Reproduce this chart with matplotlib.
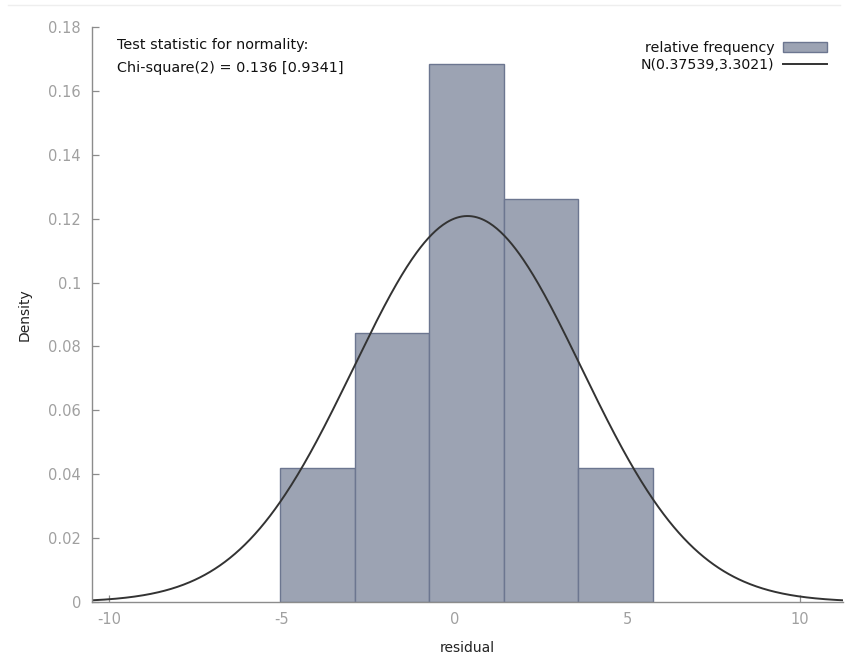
import numpy as np
import matplotlib.pyplot as plt
from matplotlib.lines import Line2D

# histogram of residuals (density scale) and fitted normal
bin_edges = [-5.06, -2.89, -0.73, 1.42, 3.57, 5.74]
density = [0.0421, 0.0842, 0.1684, 0.1263, 0.0421]
mu, sigma = 0.37539, 3.3021
x_ticks = [-10, -5, 0, 5, 10]
y_ticks = [0, 0.02, 0.04, 0.06, 0.08, 0.1, 0.12, 0.14, 0.16, 0.18]
y_ticklabels = ['0', '0.02', '0.04', '0.06', '0.08', '0.1', '0.12', '0.14', '0.16', '0.18']

plt.rcParams['font.family'] = ['DejaVu Sans']
plt.rcParams['axes.unicode_minus'] = False

fig = plt.figure(figsize=(8.48, 6.57), dpi=100)
ax = fig.add_axes([0.1085, 0.0837, 0.8855, 0.8753])

edges = np.array(bin_edges)
bars = ax.bar(edges[:-1], density, width=np.diff(edges), align='edge',
              color='#9ca3b3', edgecolor='#6c7690', linewidth=1.0,
              label='relative frequency', zorder=2)

xs = np.linspace(-10.5, 11.25, 600)
pdf = np.exp(-0.5 * ((xs - mu) / sigma) ** 2) / (sigma * np.sqrt(2 * np.pi))
line, = ax.plot(xs, pdf, color='#333333', linewidth=1.4,
                label=f'N({mu},{sigma})', zorder=3)

ax.set_xlim(-10.5, 11.25)
ax.set_ylim(0, 0.18)
ax.set_xticks(x_ticks)
ax.set_yticks(y_ticks)
ax.set_yticklabels(y_ticklabels)

for s in ['top', 'right']:
    ax.spines[s].set_visible(False)
for s in ['left', 'bottom']:
    ax.spines[s].set_color('#8c8c8c')
    ax.spines[s].set_linewidth(1.0)
    ax.spines[s].set_zorder(4)

ax.tick_params(axis='both', direction='in', length=5, width=0.9,
               color='#8c8c8c', labelcolor='#a0a0a0', labelsize=10.5)
ax.tick_params(axis='x', pad=7)
ax.tick_params(axis='y', pad=8)

ax.set_xlabel('residual', fontsize=10, color='#222222', labelpad=10)
ax.set_ylabel('Density', fontsize=10, color='#222222', labelpad=12)

ax.text(0.033, 0.969, 'Test statistic for normality:', transform=ax.transAxes,
        fontsize=10.4, color='#111111', va='center', ha='left')
ax.text(0.033, 0.929, 'Chi-square(2) = 0.136 [0.9341]', transform=ax.transAxes,
        fontsize=10.4, color='#111111', va='center', ha='left')

leg = ax.legend([bars, line], ['relative frequency', f'N({mu},{sigma})'],
                loc='upper right', bbox_to_anchor=(0.992, 0.993), frameon=False,
                markerfirst=False, fontsize=10.2, handlelength=3.1,
                handleheight=0.8, handletextpad=0.6, labelspacing=0.25,
                borderpad=0.2)
for t in leg.get_texts():
    t.set_color('#111111')

# faint line at the top of the screenshot
fig.add_artist(Line2D([0.01, 0.99], [0.992, 0.992], color='#eeeeee', linewidth=1.0))

plt.savefig('out.png', dpi=100)
